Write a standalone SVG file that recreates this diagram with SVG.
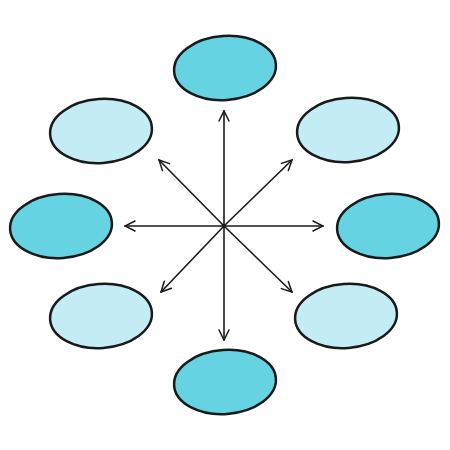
<svg xmlns="http://www.w3.org/2000/svg" width="450" height="450" viewBox="0 0 450 450">
<defs>
<style>
.dark{fill:#66d3e2;stroke:#1a1a1a;stroke-width:2.5}
.light{fill:#c3ecf4;stroke:#1a1a1a;stroke-width:2.5}
.arr{stroke:#1a1a1a;stroke-width:1.6;fill:none;stroke-linecap:round}
</style>
<marker id="ah" viewBox="0 0 12 12" refX="11" refY="6" markerWidth="12" markerHeight="12" markerUnits="userSpaceOnUse" orient="auto">
<path d="M1,1 L11,6 L1,11" fill="none" stroke="#1a1a1a" stroke-width="1.5" stroke-linecap="round"/>
</marker>
</defs>
<rect width="450" height="450" fill="#fff"/>
<g id="connectors">
<line class="arr" x1="224" y1="226" x2="224" y2="111" marker-end="url(#ah)"/>
<line class="arr" x1="224" y1="226" x2="224" y2="340" marker-end="url(#ah)"/>
<line class="arr" x1="224" y1="226" x2="125" y2="226" marker-end="url(#ah)"/>
<line class="arr" x1="224" y1="226" x2="323" y2="226" marker-end="url(#ah)"/>
<line class="arr" x1="224" y1="226" x2="159" y2="160" marker-end="url(#ah)"/>
<line class="arr" x1="224" y1="226" x2="292" y2="160" marker-end="url(#ah)"/>
<line class="arr" x1="224" y1="226" x2="161" y2="292" marker-end="url(#ah)"/>
<line class="arr" x1="224" y1="226" x2="292" y2="292" marker-end="url(#ah)"/>
<circle cx="224" cy="226" r="2" fill="#1a1a1a"/>
</g>
<g id="node-top"><ellipse class="dark" cx="225" cy="68" rx="51" ry="32" transform="rotate(-4 225 68)"/></g>
<g id="node-upper-left"><ellipse class="light" cx="101" cy="131" rx="51" ry="32" transform="rotate(-4 101 131)"/></g>
<g id="node-upper-right"><ellipse class="light" cx="348" cy="130" rx="51" ry="32" transform="rotate(-4 348 130)"/></g>
<g id="node-left"><ellipse class="dark" cx="61" cy="226" rx="51" ry="32" transform="rotate(-4 61 226)"/></g>
<g id="node-right"><ellipse class="dark" cx="388" cy="226" rx="51" ry="32" transform="rotate(-4 388 226)"/></g>
<g id="node-lower-left"><ellipse class="light" cx="101" cy="316" rx="51" ry="32" transform="rotate(-4 101 316)"/></g>
<g id="node-lower-right"><ellipse class="light" cx="346" cy="316" rx="51" ry="32" transform="rotate(-4 346 316)"/></g>
<g id="node-bottom"><ellipse class="dark" cx="225" cy="382" rx="51" ry="32" transform="rotate(-4 225 382)"/></g>
</svg>
